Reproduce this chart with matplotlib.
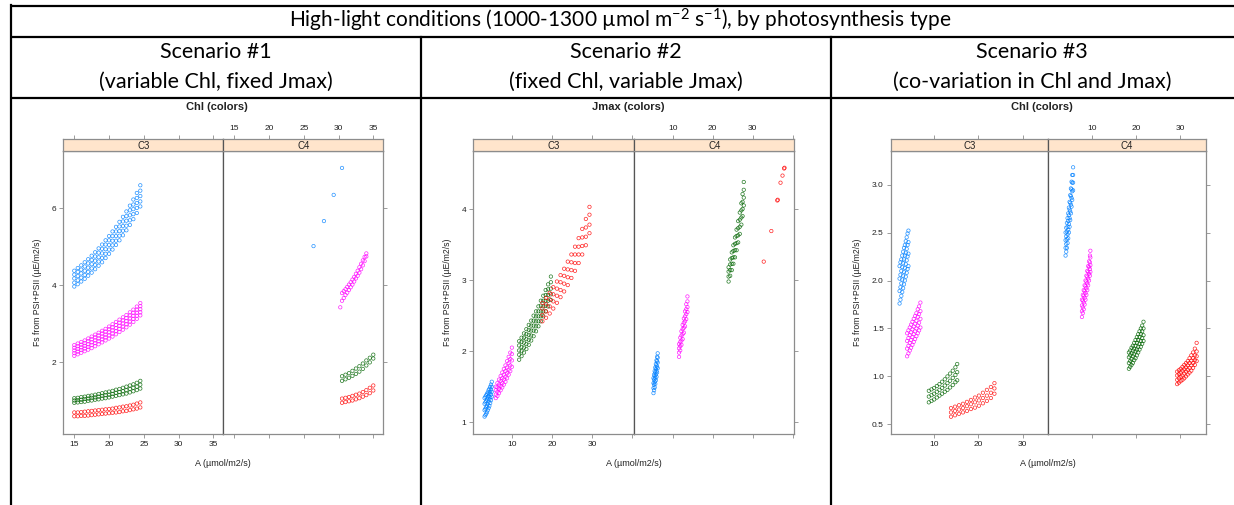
import numpy as np
import matplotlib.pyplot as plt

plt.rcParams['mathtext.fontset'] = 'custom'
plt.rcParams['mathtext.rm'] = 'Lato'
plt.rcParams['mathtext.it'] = 'Lato:italic'

W, H = 1234, 505
BLUE, MAGENTA, GREEN, RED = "#0080ff", "#ff00ff", "#006400", "#ff0000"

HEADER = "High-light conditions (1000-1300 \u00b5mol m$^{-2}$ s$^{-1}$), by photosynthesis type"
SCEN_TITLES = ["Scenario #1", "Scenario #2", "Scenario #3"]
SCEN_SUBS = ["(variable Chl, fixed Jmax)", "(fixed Chl, variable Jmax)", "(co-variation in Chl and Jmax)"]
COLOR_BY = ["Chl (colors)", "Jmax (colors)", "Chl (colors)"]
XLABEL = "A (\u00b5mol/m2/s)"
YLABEL = "Fs from PSI+PSII (\u00b5E/m2/s)"

# === Scenario 1 ===
S1_C3_X = [15.0, 15.5, 16.0, 16.5, 17.0, 17.5, 18.0, 18.5, 19.0, 19.5,
           20.0, 20.5, 21.0, 21.5, 22.0, 22.5, 23.0, 23.5, 24.0, 24.5]
S1_C3_BLUE = [
    [3.97, 4.03, 4.10, 4.17, 4.25, 4.33, 4.42, 4.51, 4.60, 4.71, 4.82, 4.93, 5.05, 5.17, 5.30, 5.43, 5.57, 5.72, 5.88, 6.05],
    [4.07, 4.13, 4.20, 4.27, 4.35, 4.44, 4.53, 4.62, 4.71, 4.82, 4.93, 5.04, 5.16, 5.29, 5.42, 5.55, 5.69, 5.85, 6.01, 6.18],
    [4.18, 4.24, 4.31, 4.38, 4.46, 4.55, 4.64, 4.73, 4.83, 4.94, 5.05, 5.16, 5.28, 5.41, 5.54, 5.68, 5.82, 5.98, 6.14, 6.32],
    [4.28, 4.35, 4.41, 4.49, 4.57, 4.66, 4.75, 4.85, 4.95, 5.06, 5.17, 5.28, 5.40, 5.53, 5.66, 5.80, 5.95, 6.10, 6.27, 6.46],
    [4.38, 4.45, 4.52, 4.60, 4.68, 4.77, 4.86, 4.96, 5.06, 5.17, 5.28, 5.40, 5.52, 5.65, 5.78, 5.92, 6.07, 6.23, 6.40, 6.60],
]
S1_C3_MAGENTA = [
    [2.17, 2.21, 2.25, 2.29, 2.33, 2.37, 2.42, 2.47, 2.52, 2.57, 2.62, 2.67, 2.73, 2.79, 2.85, 2.91, 2.98, 3.05, 3.13, 3.22],
    [2.24, 2.28, 2.32, 2.36, 2.40, 2.45, 2.50, 2.55, 2.60, 2.65, 2.70, 2.75, 2.81, 2.87, 2.93, 2.99, 3.06, 3.13, 3.21, 3.30],
    [2.31, 2.35, 2.39, 2.43, 2.47, 2.52, 2.57, 2.62, 2.67, 2.72, 2.78, 2.83, 2.89, 2.95, 3.01, 3.07, 3.14, 3.21, 3.29, 3.38],
    [2.38, 2.42, 2.46, 2.50, 2.55, 2.60, 2.65, 2.70, 2.75, 2.80, 2.86, 2.91, 2.97, 3.03, 3.09, 3.15, 3.22, 3.29, 3.37, 3.46],
    [2.45, 2.49, 2.53, 2.57, 2.62, 2.67, 2.72, 2.77, 2.82, 2.87, 2.93, 2.99, 3.05, 3.11, 3.17, 3.23, 3.30, 3.37, 3.45, 3.54],
]
S1_C3_GREEN = [
    [0.95, 0.96, 0.97, 0.98, 1.00, 1.01, 1.03, 1.04, 1.06, 1.07, 1.09, 1.11, 1.13, 1.15, 1.17, 1.19, 1.22, 1.25, 1.28, 1.32],
    [1.01, 1.02, 1.03, 1.05, 1.06, 1.08, 1.09, 1.11, 1.13, 1.15, 1.16, 1.18, 1.21, 1.23, 1.25, 1.28, 1.31, 1.34, 1.37, 1.42],
    [1.07, 1.08, 1.10, 1.11, 1.13, 1.14, 1.16, 1.18, 1.20, 1.22, 1.24, 1.26, 1.29, 1.31, 1.34, 1.37, 1.40, 1.43, 1.47, 1.52],
]
S1_C3_RED = [
    [0.60, 0.60, 0.61, 0.61, 0.62, 0.63, 0.64, 0.65, 0.66, 0.67, 0.68, 0.69, 0.70, 0.71, 0.73, 0.74, 0.76, 0.78, 0.80, 0.83],
    [0.70, 0.70, 0.71, 0.72, 0.73, 0.74, 0.75, 0.76, 0.77, 0.78, 0.79, 0.80, 0.82, 0.83, 0.85, 0.86, 0.88, 0.90, 0.93, 0.96],
]
S1_C4_BLUE_X = [26.4, 27.9, 29.3, 30.5]
S1_C4_BLUE = [[5.02, 5.67, 6.35, 7.05]]
S1_C4_MAG_X = [30.5, 30.75, 31.0, 31.25, 31.5, 31.75, 32.0, 32.25, 32.5, 32.75, 33.0, 33.25, 33.5, 33.75, 34.0]
S1_C4_MAGENTA = [
    [3.60, 3.67, 3.75, 3.81, 3.88, 3.95, 4.02, 4.10, 4.18, 4.25, 4.33, 4.42, 4.52, 4.63, 4.75],
    [3.80, 3.85, 3.90, 3.96, 4.02, 4.08, 4.15, 4.22, 4.30, 4.38, 4.47, 4.56, 4.65, 4.74, 4.83],
]
S1_C4_MAG_OUT_X = [30.25]
S1_C4_MAG_OUT = [[3.43]]
S1_C4_X = [30.5, 31.0, 31.5, 32.0, 32.5, 33.0, 33.5, 34.0, 34.5, 35.0]
S1_C4_GREEN = [
    [1.52, 1.56, 1.60, 1.65, 1.70, 1.76, 1.83, 1.92, 2.00, 2.10],
    [1.64, 1.68, 1.72, 1.78, 1.84, 1.90, 1.97, 2.05, 2.12, 2.20],
]
S1_C4_RED = [
    [0.95, 0.97, 0.99, 1.01, 1.04, 1.07, 1.11, 1.15, 1.20, 1.27],
    [1.06, 1.08, 1.10, 1.13, 1.16, 1.19, 1.23, 1.28, 1.34, 1.40],
]

# === Scenario 2 ===
S2_C3_BLUE_X = [3.2, 3.4, 3.6, 3.8, 4.0, 4.2, 4.4, 4.6, 4.8, 5.0]
S2_C3_BLUE = [
    [1.08, 1.10, 1.12, 1.14, 1.17, 1.20, 1.23, 1.27, 1.31, 1.36],
    [1.17, 1.19, 1.21, 1.23, 1.26, 1.29, 1.32, 1.35, 1.39, 1.43],
    [1.26, 1.28, 1.30, 1.32, 1.35, 1.37, 1.40, 1.43, 1.46, 1.50],
    [1.34, 1.36, 1.38, 1.40, 1.42, 1.45, 1.47, 1.50, 1.53, 1.57],
]
S2_C3_MAG_X = [6.0, 6.4, 6.8, 7.2, 7.6, 8.0, 8.4, 8.8, 9.2, 9.6, 10.0]
S2_C3_MAGENTA = [
    [1.34, 1.37, 1.41, 1.45, 1.49, 1.53, 1.57, 1.62, 1.67, 1.72, 1.78],
    [1.39, 1.43, 1.47, 1.51, 1.55, 1.60, 1.64, 1.69, 1.74, 1.80, 1.87],
    [1.45, 1.49, 1.53, 1.58, 1.62, 1.67, 1.72, 1.77, 1.83, 1.89, 1.96],
    [1.50, 1.55, 1.60, 1.65, 1.70, 1.75, 1.80, 1.86, 1.92, 1.98, 2.05],
]
S2_C3_GREEN_X = [11.8, 12.4, 13.0, 13.6, 14.2, 14.8, 15.4, 16.0, 16.6, 17.2, 17.8, 18.4, 19.0, 19.7]
S2_C3_GREEN = [
    [1.88, 1.93, 1.98, 2.03, 2.09, 2.15, 2.21, 2.28, 2.35, 2.42, 2.49, 2.56, 2.63, 2.72],
    [1.95, 2.00, 2.05, 2.10, 2.16, 2.22, 2.29, 2.35, 2.42, 2.49, 2.56, 2.64, 2.71, 2.80],
    [2.01, 2.06, 2.12, 2.17, 2.23, 2.29, 2.36, 2.42, 2.49, 2.56, 2.63, 2.71, 2.79, 2.88],
    [2.08, 2.13, 2.19, 2.24, 2.30, 2.36, 2.43, 2.49, 2.56, 2.64, 2.71, 2.79, 2.87, 2.97],
    [2.14, 2.19, 2.25, 2.31, 2.37, 2.43, 2.50, 2.56, 2.63, 2.71, 2.78, 2.86, 2.94, 3.05],
]
S2_C3_RED_X = [17.6, 18.5, 19.4, 20.3, 21.2, 22.1, 23.0, 23.9, 24.8, 25.7, 26.6, 27.5, 28.4, 29.3]
S2_C3_RED = [
    [2.42, 2.47, 2.53, 2.60, 2.68, 2.76, 2.84, 2.93, 3.03, 3.13, 3.24, 3.36, 3.49, 3.66],
    [2.51, 2.56, 2.63, 2.70, 2.78, 2.86, 2.95, 3.04, 3.14, 3.24, 3.36, 3.48, 3.61, 3.78],
    [2.60, 2.66, 2.73, 2.80, 2.88, 2.97, 3.06, 3.15, 3.25, 3.36, 3.47, 3.60, 3.74, 3.92],
    [2.68, 2.75, 2.82, 2.90, 2.98, 3.07, 3.16, 3.26, 3.36, 3.47, 3.59, 3.72, 3.86, 4.03],
]
S2_C4_BLUE_X = [5.2, 5.35, 5.5, 5.65, 5.8, 5.95, 6.1, 6.25]
S2_C4_BLUE = [
    [1.41, 1.45, 1.49, 1.54, 1.59, 1.64, 1.70, 1.76],
    [1.48, 1.53, 1.57, 1.62, 1.67, 1.72, 1.78, 1.84],
    [1.55, 1.60, 1.65, 1.70, 1.75, 1.80, 1.86, 1.91],
    [1.62, 1.67, 1.72, 1.77, 1.82, 1.87, 1.92, 1.97],
]
S2_C4_MAG_X = [11.6, 11.9, 12.2, 12.5, 12.8, 13.1, 13.4, 13.7]
S2_C4_MAGENTA = [
    [1.92, 2.01, 2.09, 2.17, 2.26, 2.35, 2.45, 2.55],
    [1.98, 2.07, 2.15, 2.24, 2.33, 2.42, 2.52, 2.62],
    [2.04, 2.13, 2.22, 2.31, 2.40, 2.49, 2.59, 2.70],
    [2.10, 2.19, 2.28, 2.37, 2.46, 2.56, 2.66, 2.77],
]
S2_C4_GREEN_X = [24.0, 24.4, 24.8, 25.2, 25.6, 26.0, 26.4, 26.8, 27.2, 27.5, 27.8]
S2_C4_GREEN = [
    [2.98, 3.06, 3.14, 3.23, 3.32, 3.42, 3.53, 3.65, 3.78, 3.90, 4.05],
    [3.05, 3.14, 3.23, 3.32, 3.42, 3.52, 3.63, 3.75, 3.88, 4.00, 4.16],
    [3.12, 3.22, 3.31, 3.41, 3.51, 3.62, 3.73, 3.85, 3.98, 4.10, 4.27],
    [3.18, 3.29, 3.39, 3.49, 3.60, 3.71, 3.83, 3.95, 4.08, 4.21, 4.38],
]
S2_C4_RED_X = [32.8, 34.7, 36.2, 36.3, 37.0, 37.5, 37.9, 38.0]
S2_C4_RED = [[3.26, 3.69, 4.12, 4.13, 4.37, 4.47, 4.57, 4.58]]

# === Scenario 3 ===
S3_C3_BLUE_X = [2.2, 2.4, 2.6, 2.8, 3.0, 3.2, 3.4, 3.6, 3.8, 4.0, 4.2]
S3_C3_BLUE = [
    [1.76, 1.80, 1.84, 1.88, 1.92, 1.96, 2.00, 2.04, 2.08, 2.12, 2.15],
    [1.89, 1.93, 1.97, 2.01, 2.05, 2.09, 2.13, 2.17, 2.21, 2.25, 2.28],
    [2.02, 2.06, 2.10, 2.14, 2.18, 2.22, 2.26, 2.29, 2.33, 2.37, 2.40],
    [2.15, 2.19, 2.22, 2.26, 2.30, 2.34, 2.37, 2.41, 2.45, 2.49, 2.52],
]
S3_C3_MAG_X = [3.9, 4.2, 4.5, 4.8, 5.1, 5.4, 5.7, 6.0, 6.3, 6.6, 6.9]
S3_C3_MAGENTA = [
    [1.21, 1.24, 1.27, 1.30, 1.33, 1.36, 1.39, 1.42, 1.45, 1.48, 1.51],
    [1.29, 1.32, 1.35, 1.38, 1.41, 1.44, 1.47, 1.50, 1.53, 1.56, 1.60],
    [1.37, 1.40, 1.43, 1.46, 1.49, 1.52, 1.55, 1.58, 1.62, 1.65, 1.68],
    [1.45, 1.48, 1.51, 1.54, 1.57, 1.60, 1.63, 1.66, 1.70, 1.73, 1.77],
]
S3_C3_GREEN_X = [8.8, 9.4, 10.0, 10.6, 11.2, 11.8, 12.4, 13.0, 13.6, 14.2, 14.8, 15.2]
S3_C3_GREEN = [
    [0.73, 0.745, 0.76, 0.78, 0.80, 0.82, 0.84, 0.86, 0.885, 0.91, 0.94, 0.96],
    [0.79, 0.805, 0.82, 0.84, 0.86, 0.88, 0.905, 0.93, 0.955, 0.985, 1.015, 1.045],
    [0.85, 0.865, 0.88, 0.90, 0.92, 0.945, 0.97, 1.00, 1.03, 1.06, 1.095, 1.13],
]
S3_C3_RED_X = [13.8, 14.7, 15.6, 16.5, 17.4, 18.3, 19.2, 20.1, 21.0, 21.9, 22.8, 23.6]
S3_C3_RED = [
    [0.58, 0.595, 0.61, 0.625, 0.64, 0.66, 0.675, 0.695, 0.72, 0.745, 0.775, 0.82],
    [0.625, 0.64, 0.655, 0.67, 0.69, 0.71, 0.73, 0.75, 0.775, 0.80, 0.83, 0.875],
    [0.67, 0.685, 0.70, 0.715, 0.735, 0.755, 0.78, 0.80, 0.83, 0.86, 0.89, 0.93],
]
S3_C4_BLUE_X = [4.1, 4.25, 4.4, 4.55, 4.7, 4.85, 5.0, 5.15, 5.3, 5.45, 5.6, 5.8]
S3_C4_BLUE = [
    [2.26, 2.30, 2.34, 2.39, 2.44, 2.50, 2.56, 2.63, 2.70, 2.77, 2.84, 2.94],
    [2.34, 2.38, 2.43, 2.48, 2.53, 2.59, 2.65, 2.72, 2.79, 2.86, 2.93, 3.02],
    [2.42, 2.46, 2.51, 2.56, 2.62, 2.68, 2.74, 2.81, 2.88, 2.95, 3.02, 3.10],
    [2.50, 2.55, 2.60, 2.65, 2.70, 2.76, 2.82, 2.89, 2.96, 3.03, 3.10, 3.18],
]
S3_C4_MAG_X = [7.8, 8.0, 8.2, 8.4, 8.6, 8.8, 9.0, 9.2, 9.4, 9.6, 9.7]
S3_C4_MAGENTA = [
    [1.62, 1.66, 1.70, 1.75, 1.80, 1.85, 1.90, 1.95, 2.00, 2.05, 2.09],
    [1.68, 1.72, 1.77, 1.82, 1.87, 1.92, 1.97, 2.02, 2.07, 2.12, 2.16],
    [1.74, 1.79, 1.84, 1.89, 1.94, 1.99, 2.04, 2.09, 2.14, 2.19, 2.24],
    [1.80, 1.85, 1.90, 1.95, 2.00, 2.05, 2.10, 2.15, 2.20, 2.26, 2.31],
]
S3_C4_GREEN_X = [18.4, 18.7, 19.0, 19.3, 19.6, 19.9, 20.2, 20.5, 20.8, 21.1, 21.4, 21.7]
S3_C4_GREEN = [
    [1.08, 1.10, 1.12, 1.14, 1.17, 1.19, 1.22, 1.25, 1.28, 1.31, 1.34, 1.37],
    [1.14, 1.16, 1.18, 1.21, 1.23, 1.26, 1.28, 1.31, 1.34, 1.37, 1.40, 1.43],
    [1.20, 1.22, 1.24, 1.27, 1.29, 1.32, 1.35, 1.38, 1.41, 1.44, 1.47, 1.50],
    [1.25, 1.27, 1.30, 1.32, 1.35, 1.38, 1.41, 1.44, 1.47, 1.50, 1.53, 1.57],
]
S3_C4_RED_X = [29.3, 29.7, 30.1, 30.5, 30.9, 31.3, 31.7, 32.1, 32.5, 32.9, 33.3, 33.7]
S3_C4_RED = [
    [0.92, 0.935, 0.95, 0.965, 0.98, 1.00, 1.02, 1.04, 1.06, 1.09, 1.12, 1.16],
    [0.965, 0.98, 0.995, 1.01, 1.03, 1.05, 1.07, 1.09, 1.115, 1.14, 1.17, 1.21],
    [1.01, 1.025, 1.04, 1.06, 1.075, 1.095, 1.115, 1.14, 1.165, 1.19, 1.22, 1.26],
    [1.05, 1.065, 1.08, 1.10, 1.12, 1.14, 1.16, 1.19, 1.22, 1.25, 1.29, 1.35],
]

FRAME = "#8c8c8c"
DIVIDER = "#555555"
TXT = "#222222"
STRIP = "#ffe5cc"
RFONT = "Liberation Sans"
TFONT = "Lato"

fig = plt.figure(figsize=(W / 100, H / 100), dpi=100)

# background axes in pixel coordinates for the table
bg = fig.add_axes([0, 0, 1, 1])
bg.set_xlim(0, W)
bg.set_ylim(H, 0)
bg.axis('off')

lw_tab = 1.6
for yy in [5.5, 36.7, 97.7]:
    bg.plot([10, W], [yy, yy], color='black', lw=lw_tab, solid_capstyle='butt')
bg.plot([10.5, 10.5], [5, H], color='black', lw=lw_tab)
for xx in [421, 831]:
    bg.plot([xx, xx], [36.7, H], color='black', lw=lw_tab)

bg.text(620, 20.5, HEADER, ha='center', va='center', fontsize=15, family=TFONT)
col_centers = [216, 626, 1032]
for cx, t1, t2 in zip(col_centers, SCEN_TITLES, SCEN_SUBS):
    bg.text(cx, 52, t1, ha='center', va='center', fontsize=15.5, family=TFONT)
    bg.text(cx, 82, t2, ha='center', va='center', fontsize=15.5, family=TFONT)


def px_axes(x0, y0, x1, y1):
    return fig.add_axes([x0 / W, 1 - y1 / H, (x1 - x0) / W, (y1 - y0) / H])


def draw_cloud(ax, xs, rows, color):
    for row in rows:
        ax.scatter(xs, row, s=6, facecolors='none', edgecolors=color,
                   linewidths=0.5, alpha=0.85, zorder=3)


def panel(x0, xm, x1, xlim, ylim, xticks, xtl, yticks, ytl, title, ylab_x,
          c3_clouds, c4_clouds):
    top, strip_bot, bottom = 139, 151, 434
    ax3 = px_axes(x0, strip_bot, xm, bottom)
    ax4 = px_axes(xm, strip_bot, x1, bottom)
    st3 = px_axes(x0, top, xm, strip_bot)
    st4 = px_axes(xm, top, x1, strip_bot)

    for ax, clouds in [(ax3, c3_clouds), (ax4, c4_clouds)]:
        for xs, rows, color in clouds:
            draw_cloud(ax, xs, rows, color)
        ax.set_xlim(*xlim)
        ax.set_ylim(*ylim)
        ax.set_xticks(xticks)
        ax.set_xticklabels(xtl, family=RFONT)
        ax.set_yticks(yticks)
        ax.set_yticklabels(ytl, family=RFONT)
        for sp in ax.spines.values():
            sp.set_color(FRAME)
            sp.set_linewidth(0.9)
        ax.tick_params(direction='out', length=3, width=0.6, color=FRAME,
                       labelsize=6, labelcolor=TXT, pad=2)

    ax3.tick_params(bottom=True, top=False, labelbottom=True,
                    left=True, right=False, labelleft=True)
    ax4.tick_params(bottom=True, top=False, labelbottom=False,
                    left=False, right=True, labelleft=False, labelright=False)
    ax3.spines['right'].set_color(DIVIDER)
    ax4.spines['left'].set_color(DIVIDER)

    for st, lab, show_lab in [(st3, "C3", False), (st4, "C4", True)]:
        st.set_facecolor(STRIP)
        st.set_xlim(*xlim)
        st.set_ylim(0, 1)
        st.set_yticks([])
        st.set_xticks(xticks)
        st.set_xticklabels(xtl, family=RFONT)
        st.tick_params(axis='x', direction='out', length=3, width=0.6, color=FRAME,
                       labelsize=6, labelcolor=TXT, pad=2,
                       bottom=False, labelbottom=False, top=True, labeltop=show_lab)
        for sp in st.spines.values():
            sp.set_color(FRAME)
            sp.set_linewidth(0.9)
        st.text(0.5, 0.45, lab, transform=st.transAxes, ha='center', va='center',
                fontsize=7, color=TXT, family=RFONT)
    st3.spines['right'].set_color(DIVIDER)
    st4.spines['left'].set_color(DIVIDER)

    cx = (x0 + x1) / 2
    bg.text(cx - 6, 107, title, ha='center', va='center', fontsize=8,
            fontweight='bold', color=TXT, family=RFONT)
    bg.text(xm, 463, XLABEL, ha='center', va='center', fontsize=6.5,
            color=TXT, family=RFONT)
    bg.text(ylab_x, 292, YLABEL, ha='center', va='center', rotation=90,
            fontsize=6.2, color=TXT, family=RFONT)


panel(63.3, 223.3, 383.3, (13.42, 36.44), (0.14, 7.49),
      [15, 20, 25, 30, 35], ['15', '20', '25', '30', '35'],
      [2, 4, 6], ['2', '4', '6'], COLOR_BY[0], 37,
      [(S1_C3_X, S1_C3_BLUE, BLUE), (S1_C3_X, S1_C3_MAGENTA, MAGENTA),
       (S1_C3_X, S1_C3_GREEN, GREEN), (S1_C3_X, S1_C3_RED, RED)],
      [(S1_C4_BLUE_X, S1_C4_BLUE, BLUE), (S1_C4_MAG_X, S1_C4_MAGENTA, MAGENTA),
       (S1_C4_MAG_OUT_X, S1_C4_MAG_OUT, MAGENTA),
       (S1_C4_X, S1_C4_GREEN, GREEN), (S1_C4_X, S1_C4_RED, RED)])

panel(473.3, 634.3, 794.3, (0.4, 40.45), (0.835, 4.816),
      [10, 20, 30, 40], ['10', '20', '30', ''],
      [1, 2, 3, 4], ['1', '2', '3', '4'], COLOR_BY[1], 447,
      [(S2_C3_BLUE_X, S2_C3_BLUE, BLUE), (S2_C3_MAG_X, S2_C3_MAGENTA, MAGENTA),
       (S2_C3_GREEN_X, S2_C3_GREEN, GREEN), (S2_C3_RED_X, S2_C3_RED, RED)],
      [(S2_C4_BLUE_X, S2_C4_BLUE, BLUE), (S2_C4_MAG_X, S2_C4_MAGENTA, MAGENTA),
       (S2_C4_GREEN_X, S2_C4_GREEN, GREEN), (S2_C4_RED_X, S2_C4_RED, RED)])

panel(890.7, 1048.3, 1205.7, (0.2, 35.75), (0.40, 3.35),
      [10, 20, 30], ['10', '20', '30'],
      [0.5, 1.0, 1.5, 2.0, 2.5, 3.0], ['0.5', '1.0', '1.5', '2.0', '2.5', '3.0'],
      COLOR_BY[2], 858,
      [(S3_C3_BLUE_X, S3_C3_BLUE, BLUE), (S3_C3_MAG_X, S3_C3_MAGENTA, MAGENTA),
       (S3_C3_GREEN_X, S3_C3_GREEN, GREEN), (S3_C3_RED_X, S3_C3_RED, RED)],
      [(S3_C4_BLUE_X, S3_C4_BLUE, BLUE), (S3_C4_MAG_X, S3_C4_MAGENTA, MAGENTA),
       (S3_C4_GREEN_X, S3_C4_GREEN, GREEN), (S3_C4_RED_X, S3_C4_RED, RED)])

fig.savefig("out.png", dpi=100)
